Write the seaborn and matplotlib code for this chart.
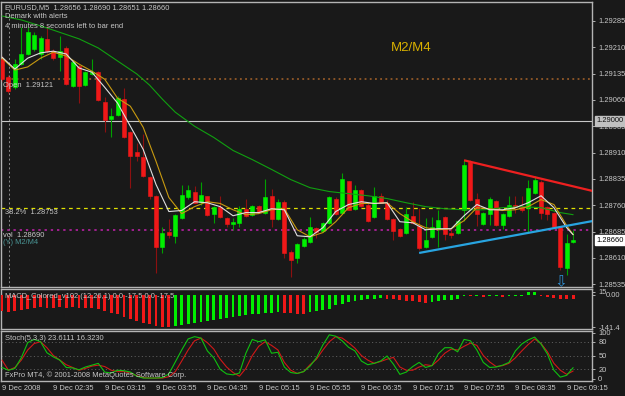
import numpy as np
import matplotlib
matplotlib.use("Agg")
import matplotlib.pyplot as plt
import matplotlib.transforms as mtransforms
import seaborn as sns

sns.set_theme(style="dark")
plt.rcParams['font.family'] = ['Liberation Sans', 'DejaVu Sans']

# ---------------- data ----------------
opens = [1.29177, 1.29125, 1.29096, 1.29162, 1.29191, 1.29205, 1.29191, 1.29234, 1.29200, 1.29182,
         1.29208, 1.29099, 1.29156, 1.29102, 1.29134, 1.29139, 1.29053, 1.29005, 1.29016, 1.29062,
         1.28968, 1.28913, 1.28896, 1.28839, 1.28785, 1.28642, 1.28684, 1.28673, 1.28725, 1.28782,
         1.28799, 1.28770, 1.28785, 1.28736, 1.28756, 1.28725, 1.28707, 1.28710, 1.28750, 1.28733,
         1.28759, 1.28739, 1.28785, 1.28722, 1.28770, 1.28627, 1.28610, 1.28644, 1.28656, 1.28696,
         1.28687, 1.28710, 1.28779, 1.28739, 1.28828, 1.28750, 1.28802, 1.28762, 1.28727, 1.28787,
         1.28767, 1.28722, 1.28693, 1.28682, 1.28730, 1.28702, 1.28642, 1.28670, 1.28693, 1.28727,
         1.28682, 1.28682, 1.28747, 1.28882, 1.28779, 1.28707, 1.28736, 1.28773, 1.28704, 1.28730,
         1.28762, 1.28756, 1.28753, 1.28796, 1.28825, 1.28756, 1.28739, 1.28699, 1.28582, 1.28656]
highs = [1.29185, 1.29131, 1.29177, 1.29268, 1.29268, 1.29254, 1.29242, 1.29271, 1.29205, 1.29242,
         1.29214, 1.29174, 1.29162, 1.29142, 1.29177, 1.29142, 1.29068, 1.29036, 1.29071, 1.29093,
         1.28971, 1.28936, 1.28962, 1.28842, 1.28790, 1.28699, 1.28722, 1.28736, 1.28819, 1.28819,
         1.28816, 1.28825, 1.28787, 1.28759, 1.28785, 1.28727, 1.28725, 1.28759, 1.28779, 1.28762,
         1.28762, 1.28836, 1.28805, 1.28779, 1.28776, 1.28633, 1.28653, 1.28670, 1.28727, 1.28699,
         1.28713, 1.28785, 1.28782, 1.28853, 1.28830, 1.28819, 1.28805, 1.28765, 1.28813, 1.28796,
         1.28776, 1.28725, 1.28696, 1.28756, 1.28770, 1.28753, 1.28725, 1.28727, 1.28747, 1.28730,
         1.28696, 1.28719, 1.28888, 1.28888, 1.28796, 1.28742, 1.28782, 1.28776, 1.28739, 1.28785,
         1.28785, 1.28785, 1.28833, 1.28842, 1.28833, 1.28759, 1.28742, 1.28702, 1.28679, 1.28690]
lows = [1.29114, 1.29079, 1.29091, 1.29159, 1.29188, 1.29200, 1.29177, 1.29194, 1.29174, 1.29142,
        1.29102, 1.29096, 1.29051, 1.29099, 1.29131, 1.29056, 1.28968, 1.28953, 1.29013, 1.28951,
        1.28810, 1.28885, 1.28839, 1.28779, 1.28567, 1.28624, 1.28667, 1.28653, 1.28722, 1.28779,
        1.28765, 1.28762, 1.28730, 1.28710, 1.28725, 1.28699, 1.28690, 1.28699, 1.28727, 1.28730,
        1.28739, 1.28736, 1.28699, 1.28719, 1.28610, 1.28556, 1.28596, 1.28642, 1.28653, 1.28667,
        1.28684, 1.28707, 1.28733, 1.28736, 1.28745, 1.28747, 1.28756, 1.28713, 1.28725, 1.28765,
        1.28719, 1.28662, 1.28670, 1.28679, 1.28707, 1.28633, 1.28639, 1.28667, 1.28642, 1.28662,
        1.28667, 1.28679, 1.28716, 1.28773, 1.28702, 1.28704, 1.28704, 1.28702, 1.28693, 1.28727,
        1.28739, 1.28742, 1.28684, 1.28793, 1.28722, 1.28719, 1.28696, 1.28576, 1.28561, 1.28651]
closes = [1.29119, 1.29085, 1.29162, 1.29191, 1.29254, 1.29245, 1.29237, 1.29200, 1.29179, 1.29200,
          1.29105, 1.29168, 1.29099, 1.29139, 1.29139, 1.29059, 1.29002, 1.29013, 1.29065, 1.28953,
          1.28899, 1.28899, 1.28842, 1.28785, 1.28642, 1.28682, 1.28676, 1.28733, 1.28790, 1.28802,
          1.28767, 1.28790, 1.28733, 1.28756, 1.28727, 1.28707, 1.28713, 1.28750, 1.28730, 1.28759,
          1.28742, 1.28782, 1.28722, 1.28770, 1.28624, 1.28604, 1.28650, 1.28664, 1.28699, 1.28684,
          1.28710, 1.28782, 1.28736, 1.28836, 1.28747, 1.28802, 1.28759, 1.28716, 1.28787, 1.28767,
          1.28722, 1.28687, 1.28673, 1.28736, 1.28710, 1.28639, 1.28662, 1.28699, 1.28719, 1.28679,
          1.28676, 1.28716, 1.28876, 1.28776, 1.28736, 1.28739, 1.28779, 1.28704, 1.28736, 1.28762,
          1.28756, 1.28745, 1.28810, 1.28833, 1.28739, 1.28736, 1.28699, 1.28584, 1.28653, 1.28660]

# moving averages
ma_bars = [0, 2, 4, 6, 8, 10, 12, 14, 16, 18, 20, 22, 24, 26, 28, 30, 32, 34, 36, 38, 40, 42, 44,
           46, 48, 50, 52, 54, 56, 58, 60, 62, 64, 66, 68, 70, 72, 74, 76, 78, 80, 82, 84, 86, 88, 89]
ma_fast = [1.29182, 1.29148, 1.29179, 1.29194, 1.29199, 1.29191, 1.29151, 1.29139, 1.29096, 1.29051,
           1.28985, 1.28919, 1.28819, 1.28742, 1.28745, 1.28770, 1.28767, 1.28756, 1.28730, 1.28739,
           1.28739, 1.28750, 1.28747, 1.28673, 1.28670, 1.28696, 1.28742, 1.28762, 1.28770, 1.28765,
           1.28767, 1.28713, 1.28710, 1.28690, 1.28693, 1.28693, 1.28730, 1.28762, 1.28747, 1.28747,
           1.28753, 1.28767, 1.28787, 1.28753, 1.28696, 1.28676]
ma_mid = [1.29179, 1.29145, 1.29154, 1.29179, 1.29196, 1.29185, 1.29162, 1.29142, 1.29119, 1.29065,
          1.29042, 1.28982, 1.28885, 1.28782, 1.28736, 1.28756, 1.28770, 1.28765, 1.28747, 1.28733,
          1.28736, 1.28747, 1.28750, 1.28690, 1.28670, 1.28682, 1.28713, 1.28753, 1.28765, 1.28765,
          1.28767, 1.28736, 1.28713, 1.28696, 1.28690, 1.28693, 1.28716, 1.28753, 1.28750, 1.28745,
          1.28747, 1.28756, 1.28776, 1.28762, 1.28702, 1.28676]
slow_bars = [0, 3, 7, 12, 15, 18, 21, 23, 25, 27, 30, 33, 36, 39, 42, 45, 48, 51, 54, 57, 60, 63,
             66, 69, 72, 75, 78, 81, 84, 87, 89]
ma_slow = [1.29299, 1.29288, 1.29265, 1.29234, 1.29208, 1.29171, 1.29134, 1.29102, 1.29062, 1.29025,
           1.28985, 1.28953, 1.28916, 1.28890, 1.28862, 1.28833, 1.28810, 1.28799, 1.28793, 1.28787,
           1.28779, 1.28767, 1.28756, 1.28750, 1.28747, 1.28747, 1.28753, 1.28756, 1.28753, 1.28739,
           1.28733]

# trend lines (anchor bar, price)
red_trend = [(72, 1.28888), (83, 1.28840)]
blue_trend = [(65, 1.28624), (87, 1.28698)]

open_level = 1.29121
round_level = 1.29000
fib_level = 1.28753
vol_level = 1.28690
arrow_bar = 87

macd_vals = [-70, -76, -72, -66, -60, -56, -55, -58, -56, -52, -56, -55, -58, -57, -56, -62, -72, -78,
             -84, -96, -108, -116, -124, -130, -137, -141.4, -140,
             -138, -134, -129, -124, -119, -114, -109, -104, -100, -96, -92, -88,
             -85, -82, -80, -78, -76, -78, -80, -82, -83, -75, -70, -66, -60, -45, -38, -32,
             -26, -22, -19, -16, -14, -16, -19, -22, -25, -28, -32, -34, -30, -27, -24, -21, -18,
             -4, -6, -5, -7, -6, -5, -8, -6, -5, -3, 12, 14, -6, -10, -12, -16, -18, -17.5]
macd_dir = ("R" * 27 + "G" * 17 + "R" * 4 + "G" * 12 + "R" * 7 + "G" * 5 +
            "GRGRGGRGGG" + "GG" + "R" * 6)

stoch_k = [24, 18, 22, 45, 78, 85, 80, 56, 47, 40, 24, 23, 19, 25, 29, 33, 14, 12, 18, 17,
           14, 5, 1, 1, 1, 2, 10, 36, 62, 86, 91, 88, 60, 45, 20, 10, 8, 12, 55, 85,
           80, 84, 55, 57, 25, 13, 11, 15, 27, 45, 73, 95, 92, 82, 68, 60, 38, 30, 33, 38,
           49, 31, 9, 14, 26, 35, 24, 28, 54, 67, 67, 58, 85, 82, 62, 35, 24, 25, 29, 35,
           60, 75, 84, 90, 75, 53, 18, 3, 7, 23.6111]
stoch_d = [40, 18, 24, 40, 62, 76, 80, 67, 50, 40, 30, 24, 18, 22, 27, 29, 26, 18, 15, 15,
           12, 6, 2, 1, 1, 1, 4, 15, 38, 62, 82, 88, 78, 64, 42, 25, 13, 5, 22, 50,
           70, 80, 72, 62, 35, 18, 11, 15, 30, 42, 62, 80, 91, 88, 78, 66, 50, 40, 33, 37,
           42, 46, 25, 18, 18, 25, 30, 28, 40, 55, 64, 62, 70, 77, 72, 50, 36, 26, 28, 33,
           45, 60, 74, 86, 76, 58, 33, 18, 9, 16.3230]

tick_bars = [0, 8, 16, 24, 32, 40, 48, 56, 64, 72, 80, 88]
tick_labels = ["9 Dec 2008", "9 Dec 02:35", "9 Dec 03:15", "9 Dec 03:55", "9 Dec 04:35",
               "9 Dec 05:15", "9 Dec 05:55", "9 Dec 06:35", "9 Dec 07:15", "9 Dec 07:55",
               "9 Dec 08:35", "9 Dec 09:15"]
price_ticks = [1.29285, 1.29210, 1.29135, 1.29060, 1.28985, 1.28910, 1.28835, 1.28760,
               1.28685, 1.28610, 1.28535]
macd_top, macd_zero, macd_min = 15, 0.0, -141.4

# ---------------- style ----------------
BG = "#191919"
FG = "#c8c8c8"
FS = 5.4
UP_BODY, DN_BODY = "#00f000", "#f01818"
UP_WICK, DN_WICK = "#00a000", "#8c1010"

W, H = 625, 396
fig = plt.figure(figsize=(6.25, 3.96), dpi=100, facecolor=BG)


def rect(x0, y0, x1, y1):
    return [x0 / W, 1 - y1 / H, (x1 - x0) / W, (y1 - y0) / H]


ax = fig.add_axes(rect(1, 2, 592, 287))
axm = fig.add_axes(rect(1, 289, 592, 329))
axs = fig.add_axes(rect(1, 331, 592, 381))

XL = (-0.16, 91.94)
for a in (ax, axm, axs):
    a.set_facecolor(BG)
    a.set_xlim(*XL)
    for s in a.spines.values():
        s.set_color("#b4b4b4")
        s.set_linewidth(1.0)
    a.grid(False)
    a.yaxis.tick_right()
    a.tick_params(axis="y", colors=FG, labelsize=FS, length=2.5, width=0.6, pad=2,
                  labelcolor=FG, direction="out")
    a.set_xticks([])

# ---------------- main price panel ----------------
o = np.array(opens); h = np.array(highs); l = np.array(lows); c = np.array(closes)
idx = np.arange(len(o))
up = c >= o
ax.vlines(idx[up], l[up], h[up], color=UP_WICK, lw=0.8, zorder=3)
ax.vlines(idx[~up], l[~up], h[~up], color=DN_WICK, lw=0.8, zorder=3)
ax.bar(idx[up], c[up] - o[up], bottom=o[up], width=0.62, color=UP_BODY,
       edgecolor=UP_BODY, linewidth=0.4, zorder=4)
ax.bar(idx[~up], o[~up] - c[~up], bottom=c[~up], width=0.62, color=DN_BODY,
       edgecolor=DN_BODY, linewidth=0.4, zorder=4)

sns.lineplot(x=slow_bars, y=ma_slow, ax=ax, color="#10a010", linewidth=0.8, zorder=5)
sns.lineplot(x=ma_bars, y=ma_mid, ax=ax, color="#c89a10", linewidth=0.8, zorder=5)
sns.lineplot(x=ma_bars, y=ma_fast, ax=ax, color="#e0e0e0", linewidth=0.8, zorder=6)

ax.axhline(open_level, color="#a8642a", ls=(0, (1.2, 2.2)), lw=1.1, zorder=2)
ax.axhline(round_level, color="#c8c8c8", lw=0.8, zorder=2)
ax.axhline(fib_level, color="#e0e000", ls=(0, (3, 3)), lw=0.9, zorder=2)
ax.axhline(vol_level, color="#a0208f", ls=(0, (1.2, 2.0)), lw=1.4, zorder=2)
ax.axvline(1.1, color="#8a8a8a", ls=(0, (2, 2.5)), lw=0.7, zorder=1)


def ray(anchors, color):
    (x0, y0), (x1, y1) = anchors
    slope = (y1 - y0) / (x1 - x0)
    xe = XL[1] + 1
    ax.plot([x0, xe], [y0, y0 + slope * (xe - x0)], color=color, lw=1.6, zorder=7,
            solid_capstyle="butt")


ray(red_trend, "#ee2020")
ray(blue_trend, "#28a4e0")

ax.annotate("\u21e9", xy=(arrow_bar, lows[arrow_bar]), xytext=(0, -8.5),
            textcoords="offset points", ha="center", va="center", color="#2f90d4",
            fontsize=11, family=["DejaVu Sans"], zorder=8)

ax.set_ylim(1.28527, 1.29339)
ax.set_yticks(price_ticks)
ax.set_yticklabels([f"{v:.5f}" for v in price_ticks])

bt = mtransforms.blended_transform_factory(ax.transAxes, ax.transData)
ax.annotate(f"{round_level:.5f}", xy=(1, round_level), xycoords=bt, xytext=(3.2, 0),
            textcoords="offset points", va="center", ha="left", fontsize=FS, color="#101010",
            bbox=dict(boxstyle="square,pad=0.18", fc="#c0c0c0", ec="#c0c0c0"),
            annotation_clip=False, zorder=10)
ax.annotate(f"{closes[-1]:.5f}", xy=(1, closes[-1]), xycoords=bt, xytext=(3.2, 0),
            textcoords="offset points", va="center", ha="left", fontsize=FS, color="#000000",
            bbox=dict(boxstyle="square,pad=0.18", fc="#ffffff", ec="#ffffff"),
            annotation_clip=False, zorder=10)


def ftext(x, y, s, **kw):
    kw.setdefault("color", FG)
    kw.setdefault("fontsize", FS)
    fig.text(x / W, 1 - y / H, s, va="center", ha="left", **kw)


ftext(5, 8, "EURUSD,M5  1.28656 1.28690 1.28651 1.28660")
ftext(5, 17, "Demark with alerts")
ftext(5, 26, "4 minutes 8 seconds left to bar end")
ftext(3, 85.5, "Open  1.29121")
ftext(5, 213, "38.2%  1.28753")
ftext(3, 235.5, "vol  1.28690")
ftext(3, 242.5, "(Y) M2/M4", color="#4a9696")
ftext(391, 48, "M2/M4", color="#d8b000", fontsize=9.5)

# ---------------- MACD panel ----------------
mv = np.array(macd_vals, dtype=float)
cols = ["#00f000" if d == "G" else "#f01818" for d in macd_dir]
axm.bar(idx, mv, width=0.45, color=cols, linewidth=0, zorder=3)
axm.set_ylim(-150.2, 26.5)
axm.set_yticks([macd_top, macd_zero, macd_min])
axm.set_yticklabels([f"{macd_top}", "", f"{macd_min}"])
bm = mtransforms.blended_transform_factory(axm.transAxes, axm.transData)
axm.annotate(f"{macd_zero:.2f}", xy=(1, macd_zero), xycoords=bm, xytext=(10, -0.5),
             textcoords="offset points", va="center", ha="left", fontsize=FS, color=FG,
             annotation_clip=False)
ftext(5, 296.5, "MACD_Colored_v102 (12,26,1) 0.0 -17.5 0.0 -17.5")

# ---------------- Stochastic panel ----------------
for lv in (80, 50, 20):
    axs.axhline(lv, color="#5a5a5a", ls=(0, (1.2, 2.5)), lw=0.7, zorder=1)
sns.lineplot(x=idx, y=stoch_d, ax=axs, color="#d01818", linewidth=0.8, zorder=4)
sns.lineplot(x=idx, y=stoch_k, ax=axs, color="#10c010", linewidth=0.8, zorder=5)
axs.set_ylim(-5.4, 103.3)
axs.set_yticks([100, 80, 50, 20, 0])
axs.set_yticklabels(["100", "80", "50", "20", "0"])
axs.set_xticks(tick_bars)
axs.set_xticklabels(tick_labels)
axs.tick_params(axis="x", colors="#b4b4b4", labelcolor=FG, labelsize=FS, length=2.5,
                width=0.6, pad=0.5, direction="out")
for lbl in axs.get_xticklabels():
    lbl.set_ha("left")
ftext(5, 339, "Stoch(5,3,3) 23.6111 16.3230")
ftext(5, 375.5, "FxPro MT4, \u00a9 2001-2008 MetaQuotes Software Corp.")

for a in (ax, axm, axs):
    a.set_xlabel("")
    a.set_ylabel("")
    a.set_xlim(*XL)
    leg = a.get_legend()
    if leg is not None:
        leg.remove()

fig.savefig("out.png", dpi=100, facecolor=BG)
